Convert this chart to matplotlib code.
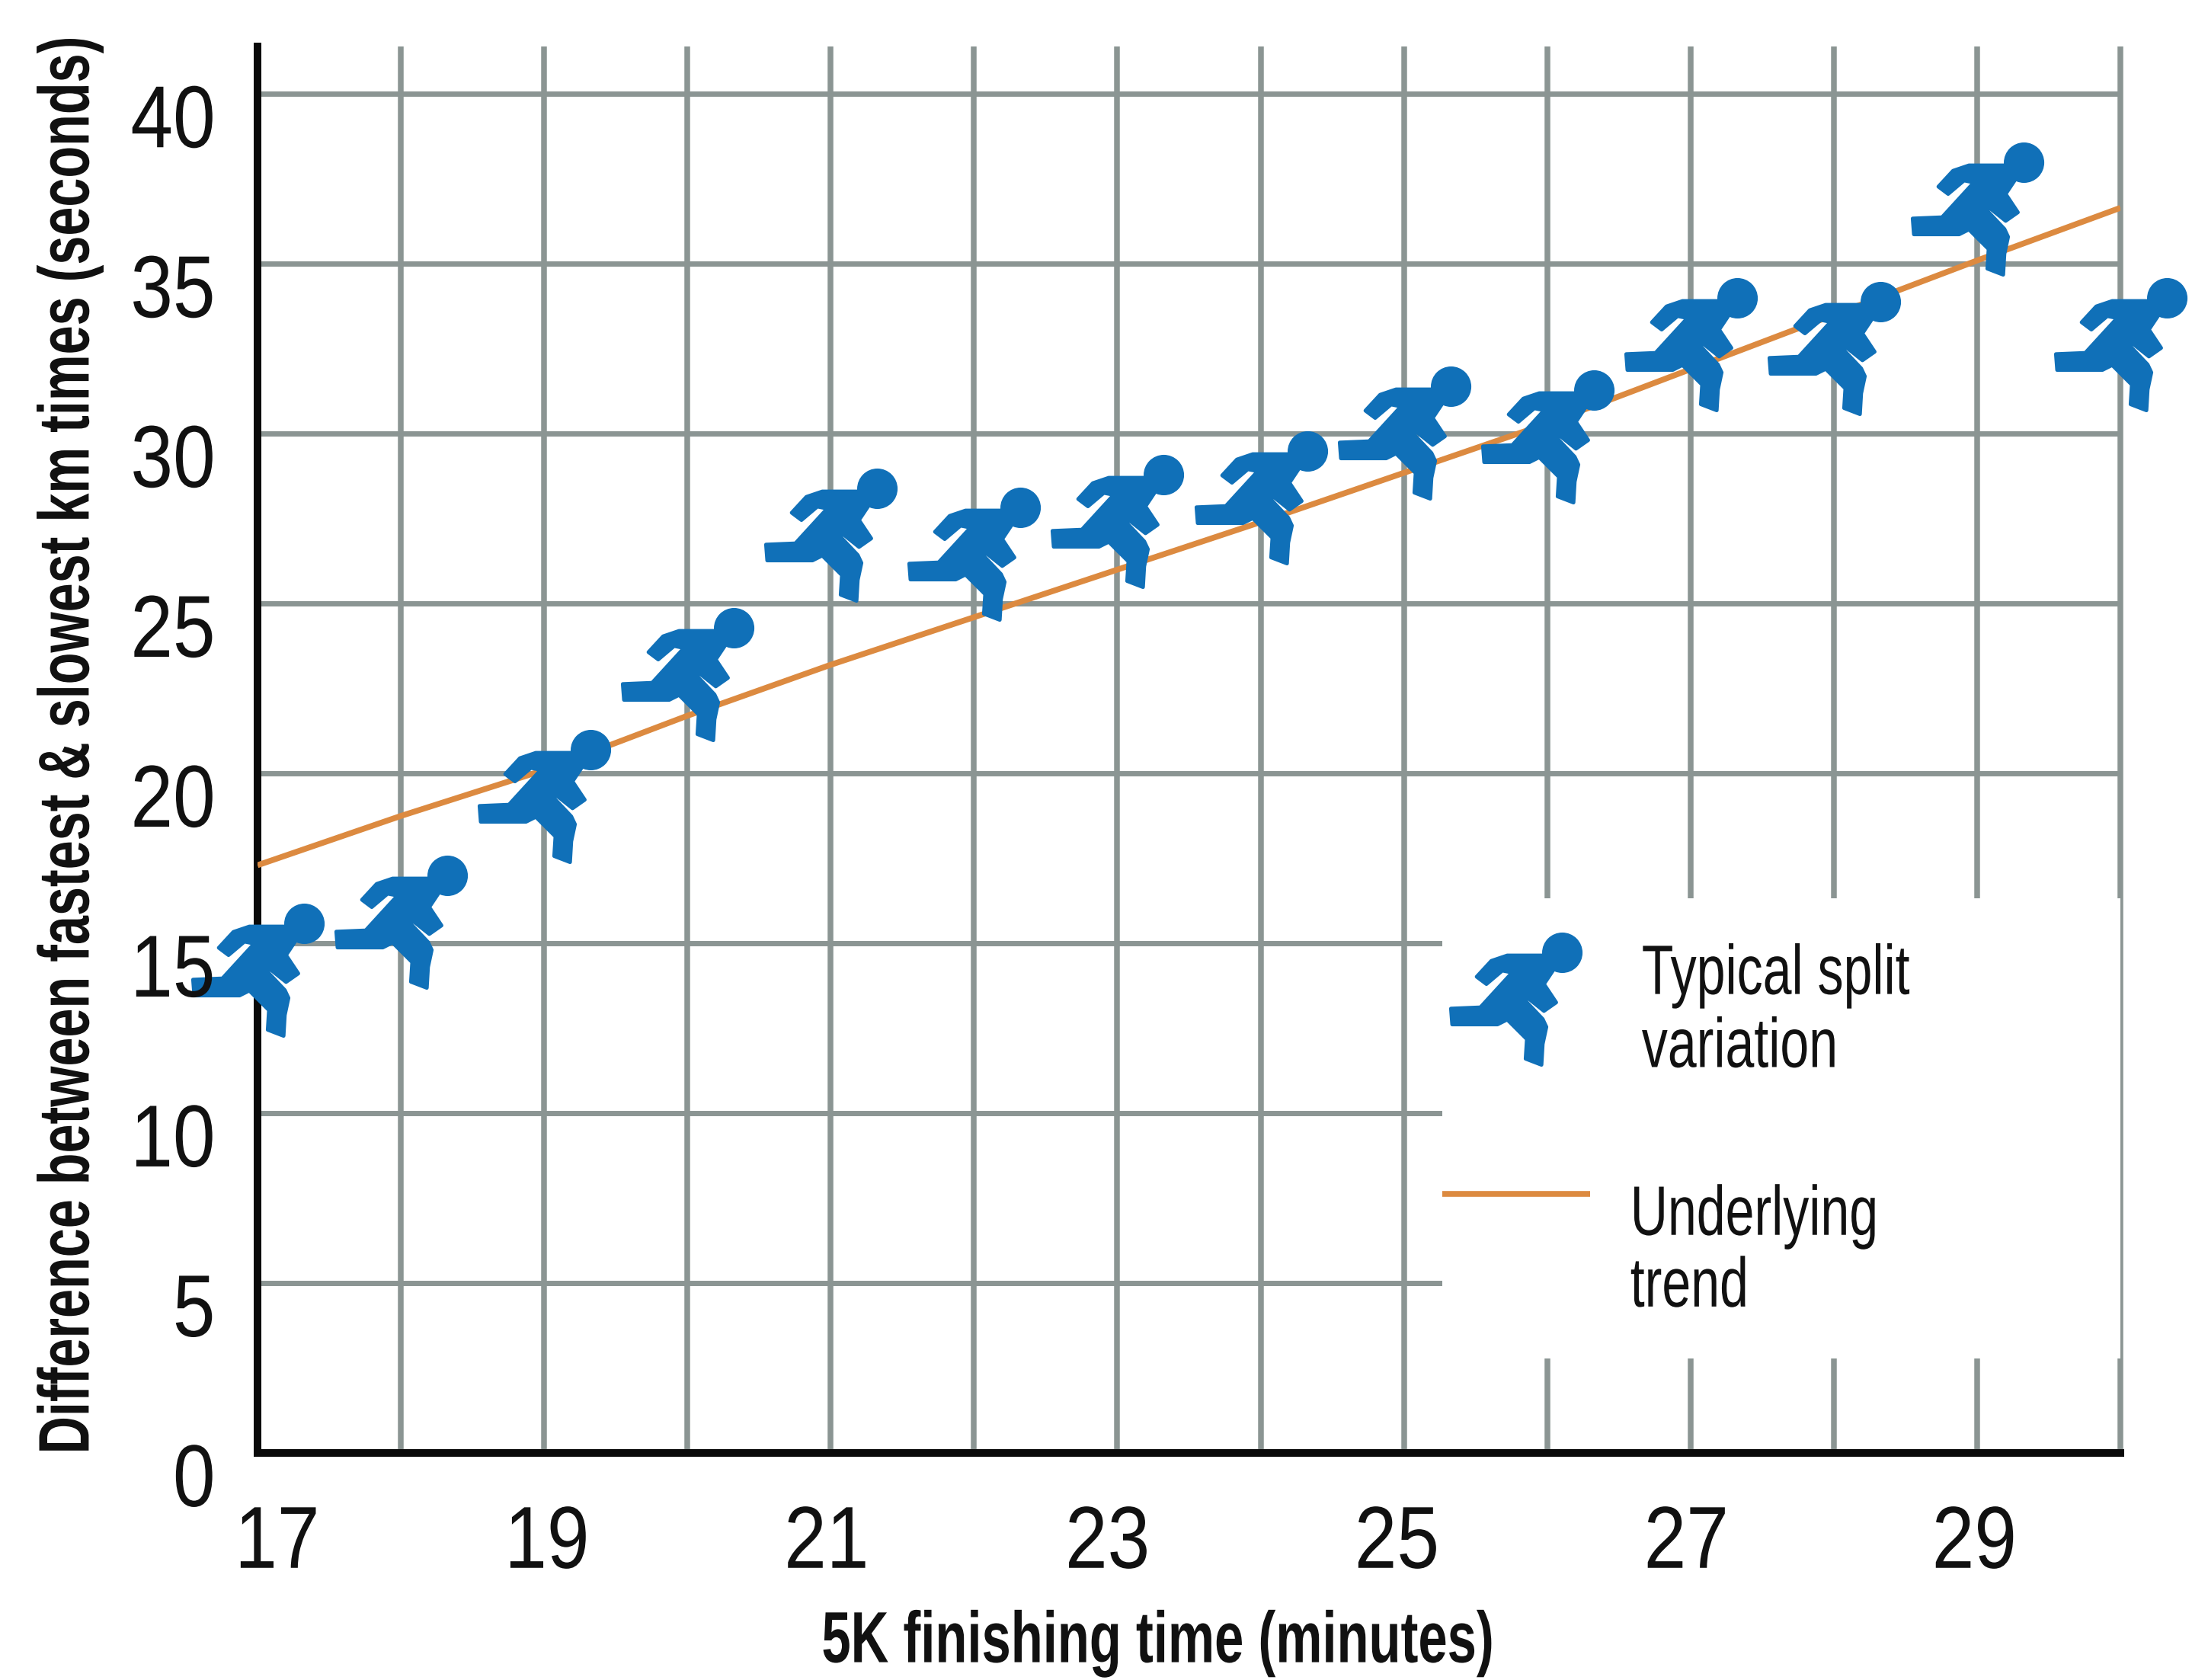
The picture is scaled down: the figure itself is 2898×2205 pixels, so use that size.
import numpy as np
import matplotlib
matplotlib.use('Agg')
import matplotlib.pyplot as plt
from matplotlib.path import Path
from matplotlib.patches import Rectangle
from matplotlib.patheffects import AbstractPathEffect
from matplotlib.transforms import Affine2D, ScaledTranslation

plt.rcParams['font.family'] = ['Liberation Sans', 'DejaVu Sans']

# finishing times and split differences
finish_min = [17, 18, 19, 20, 21, 22, 23, 24, 25, 26, 27, 28, 29, 30]
split_diff = [14.2, 15.6, 19.3, 22.9, 27.0, 26.45, 27.4, 28.1, 30.0, 29.9, 32.6, 32.5, 36.6, 32.6]
trend_diff = [17.3, 18.75, 20.1, 21.7, 23.2, 24.6, 26.0, 27.4, 28.85, 30.3, 31.9, 33.5, 35.1, 36.65]

x_ticks = list(range(17, 31))
x_tick_labels = ['17', '', '19', '', '21', '', '23', '', '25', '', '27', '', '29', '']
x_label_shift = [14, 0, 2, 0, -3, 0, -7, 0, -5, 0, -3, 0, -2, 0]
y_ticks = [0, 5, 10, 15, 20, 25, 30, 35, 40]
y_tick_labels = ['0', '5', '10', '15', '20', '25', '30', '35', '40']

BLUE = '#1070b8'
ORANGE = '#dc8a40'
GRID = '#8b9593'
INK = '#111111'


class Tall(AbstractPathEffect):
    # stretches glyphs upward from the baseline, gives a condensed look
    def __init__(self, sy):
        super().__init__()
        self.sy = sy

    def draw_path(self, renderer, gc, tpath, affine, rgbFace=None):
        renderer.draw_path(gc, tpath, Affine2D().scale(1, self.sy) + affine, rgbFace)


def runner_marker():
    # little running figure: one outline with the arm gap and leg slit, plus a round head
    body = [(155, 195), (215, 130), (280, 108), (430, 108), (470, 165), (430, 225),
            (480, 300), (430, 335), (365, 283), (353, 292), (425, 368), (440, 400),
            (425, 470), (420, 555), (355, 530), (360, 450), (280, 370), (240, 390),
            (55, 390), (50, 325), (170, 320), (300, 178), (260, 170), (195, 225), (155, 195)]
    head = Path.circle((505, 97), 75)
    path = Path.make_compound_path(Path(body, closed=True), head)
    v = path.vertices.copy()
    v[:, 0] = v[:, 0] - 315
    v[:, 1] = 290 - v[:, 1]
    return Path(v, path.codes)


fig = plt.figure(figsize=(28.98, 22.05), dpi=100)
ax = fig.add_axes([338 / 2898, (2205 - 1907) / 2205, (2783 - 338) / 2898, (1907 - 61) / 2205])
ax.set_xlim(17, 30)
ax.set_ylim(0, 41.4)

# grid
ax.vlines(x_ticks[1:], 0, 41.4, color=GRID, linewidth=5.4, zorder=0.5, clip_on=False)
ax.hlines(y_ticks[1:], 17, 30, color=GRID, linewidth=5.0, zorder=0.5, clip_on=False)

ax.set_xticks(x_ticks)
ax.set_xticklabels(x_tick_labels, fontsize=72, color=INK)
ax.set_yticks(y_ticks)
ax.set_yticklabels(y_tick_labels, fontsize=72, color=INK)
ax.tick_params(axis='x', length=0, pad=56)
ax.tick_params(axis='y', length=0, pad=40)
ax.xaxis.set_zorder(6)
ax.yaxis.set_zorder(6)

# tick labels sit a little off their gridlines
for lab in ax.get_yticklabels():
    lab.set_transform(lab.get_transform() + ScaledTranslation(0, -24 / 72, fig.dpi_scale_trans))
    lab.set_path_effects([Tall(1.155)])
for lab, dx in zip(ax.get_xticklabels(), x_label_shift):
    lab.set_transform(lab.get_transform() + ScaledTranslation(dx * 1.848 / 100, 0, fig.dpi_scale_trans))
    lab.set_path_effects([Tall(1.155)])

for side in ['top', 'right']:
    ax.spines[side].set_visible(False)
for side in ['left', 'bottom']:
    ax.spines[side].set_linewidth(7.2)
    ax.spines[side].set_color('#0a0a0a')
    ax.spines[side].set_zorder(2)

# white panel under the key
ax.add_patch(Rectangle((25.27, 2.78), 4.73, 13.55, facecolor='white', edgecolor='none', zorder=1))

runner = runner_marker()
ax.plot(finish_min, trend_diff, color=ORANGE, linewidth=5.5, zorder=3, solid_capstyle='butt')
ax.plot(finish_min, split_diff, linestyle='none', marker=runner, markersize=124,
        markerfacecolor=BLUE, markeredgecolor=BLUE, markeredgewidth=3.5, zorder=4, clip_on=False)

# key
ax.plot([25.78], [13.35], linestyle='none', marker=runner, markersize=124,
        markerfacecolor=BLUE, markeredgecolor=BLUE, markeredgewidth=3.5, zorder=4)
ax.plot([25.27, 26.3], [7.63, 7.63], color=ORANGE, linewidth=5.5, zorder=3, solid_capstyle='butt')
key_texts = [(26.66, 13.51, 'Typical split'), (26.66, 11.36, 'variation'),
             (26.58, 6.42, 'Underlying'), (26.58, 4.31, 'trend')]
for kx, ky, s in key_texts:
    ax.text(kx, ky, s, fontsize=49, va='baseline', ha='left', zorder=5, color=INK,
            path_effects=[Tall(1.35)])

ax.set_xlabel('5K finishing time (minutes)', fontsize=49.5, fontweight='bold', va='center',
              color=INK, path_effects=[Tall(1.38)])
ax.xaxis.set_label_coords(0.483, -0.139)
ax.set_ylabel('Difference between fastest & slowest km times (seconds)', fontsize=49.2,
              fontweight='bold', va='center', color=INK, path_effects=[Tall(1.38)])
ax.yaxis.set_label_coords(-0.098, 0.5035)

fig.savefig('out.png', dpi=100, facecolor='white')
